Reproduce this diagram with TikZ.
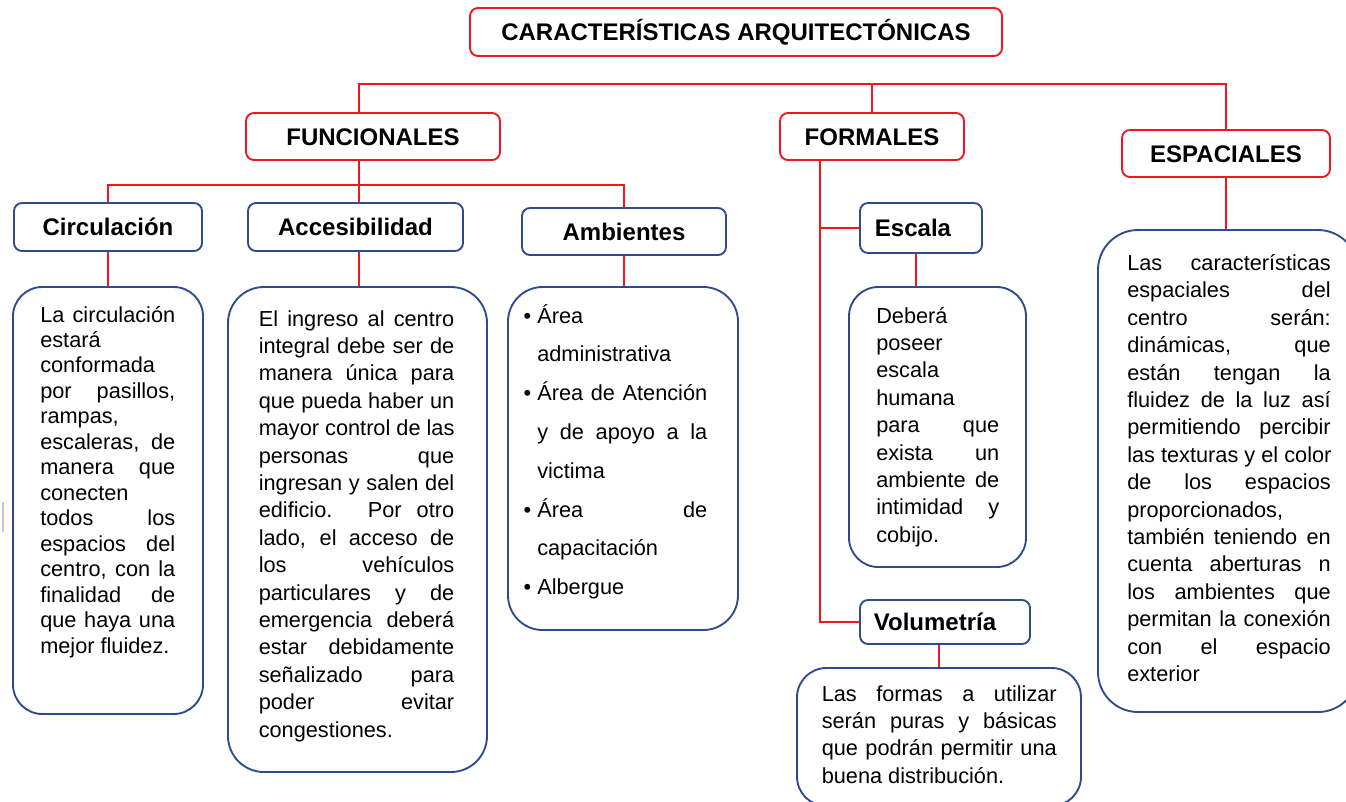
\documentclass[tikz,border=0pt]{standalone}
\usepackage{fontspec}
\setmainfont{Liberation Sans}
\usetikzlibrary{fit}
\definecolor{redline}{HTML}{F2141E}
\definecolor{boxblue}{HTML}{2F4B8A}
% justified line: every space stretches equally to fill the line
\newcommand{\jl}[1]{\leavevmode\hbox to \linewidth{\spaceskip=.278em plus 1fil\relax #1}}
\newcommand{\bul}{\leavevmode\llap{\textbullet\kern4.5pt}}
\newcommand{\txt}[3]{\parbox[t]{#1}{\fontsize{16.3}{#2}\selectfont\raggedright #3}}
\begin{document}
\begin{tikzpicture}[x=0.75pt,y=-0.75pt,
  redbox/.style={draw=redline, line width=1.4pt, rounded corners=6pt, inner sep=0pt},
  bluebox/.style={draw=boxblue, line width=1.4pt, rounded corners=6pt, inner sep=0pt},
  txtbox/.style={draw=boxblue, line width=1.4pt, inner sep=0pt},
  head/.style={font=\fontsize{18}{21.6}\selectfont\bfseries, text height=12.9pt, text depth=0pt},
  body/.style={anchor=base west, inner sep=0pt},
  conn/.style={draw=redline, line width=1.4pt}]
\useasboundingbox (0,0) rectangle (1346,801);
\fill[white] (0,0) rectangle (1346,801);
\clip (0,0) rectangle (1346,801);

% header boxes
\node[redbox, head, minimum width=399pt, minimum height=36pt] (title) at (736,32) {CARACTERÍSTICAS ARQUITECTÓNICAS};
\node[redbox, head, minimum width=190.5pt, minimum height=35.25pt] (func) at (373,136.5) {FUNCIONALES};
\node[redbox, head, minimum width=138pt, minimum height=35.25pt] (form) at (872,136.5) {FORMALES};
\node[redbox, head, minimum width=156pt, minimum height=35.25pt] (esp) at (1226,153.5) {ESPACIALES};

\node[bluebox, head, minimum width=141pt, minimum height=36pt] (circ) at (108,227) {Circulación};
\node[bluebox, head, minimum width=161.25pt, minimum height=36pt] (acc) at (355.5,227) {Accesibilidad};
\node[bluebox, head, minimum width=153pt, minimum height=35.25pt] (amb) at (624,231.5) {Ambientes};
\node[bluebox, head, minimum width=91.5pt, minimum height=37.5pt] (esc) at (921,228) {Escala\hspace*{12pt}};
\node[bluebox, head, minimum width=127.5pt, minimum height=33pt] (vol) at (945,622) {Volumetría\hspace*{15pt}};

% text boxes
\node[txtbox, rounded corners=22pt, fit={(13,287) (203,714)}] (circt) {};
\node[txtbox, rounded corners=27pt, fit={(228,287) (487,772)}] (acct) {};
\node[txtbox, rounded corners=26pt, fit={(508,287) (738,630)}] (ambt) {};
\node[txtbox, rounded corners=22pt, fit={(849,287) (1026,567)}] (esct) {};
\node[txtbox, rounded corners=22pt, fit={(797,668) (1081,806)}] (volt) {};
\node[txtbox, rounded corners=30pt, fit={(1098,230) (1358,712)}] (espt) {};

% connectors
\coordinate (b1) at (359,84);
\coordinate (b2) at (359,185);
\coordinate (fx) at (820,0);
\coordinate (ex) at (916,0);
\draw[conn] (b1 |- func.north) -- (b1) -| (esp.north);
\draw[conn] (form.north) -- (form.north |- b1);
\draw[conn] (b1 |- func.south) -- (b2);
\draw[conn] (circ.north) |- (b2) -| (amb.north);
\draw[conn] (b2) -- (b2 |- acc.north);
\draw[conn] (circ.south) -- (circt.north);
\draw[conn] (b2 |- acc.south) -- (b2 |- acct.north);
\draw[conn] (amb.south) -- (amb.south |- ambt.north);
\draw[conn] (fx |- form.south) |- (vol.west);
\draw[conn] (fx |- esc.west) -- (esc.west);
\draw[conn] (ex |- esc.south) -- (ex |- esct.north);
\draw[conn] (vol.south -| volt.north) -- (volt.north);
\draw[conn] (esp.south) -- (esp.south |- espt.north);

% stray mark at left edge
\draw[gray!45, line width=1pt] (3,502) -- (3,532);

% body texts
\node[body] (circtx) at (40,322) {\txt{101.25pt}{19.1pt}{%
\jl{La circulación}\\
estará\\
conformada\\
\jl{por pasillos,}\\
rampas,\\
\jl{escaleras, de}\\
\jl{manera que}\\
conecten\\
\jl{todos los}\\
\jl{espacios del}\\
\jl{centro, con la}\\
\jl{finalidad de}\\
\jl{que haya una}\\
mejor fluidez.}};

\node[body] (acctx) at (258.5,326) {\txt{146.6pt}{20.55pt}{%
\jl{El ingreso al centro}\\
\jl{integral debe ser de}\\
\jl{manera única para}\\
\jl{que pueda haber un}\\
\jl{mayor control de las}\\
\jl{personas que}\\
\jl{ingresan y salen del}\\
\jl{edificio. Por otro}\\
\jl{lado, el acceso de}\\
\jl{los vehículos}\\
\jl{particulares y de}\\
\jl{emergencia deberá}\\
\jl{estar debidamente}\\
\jl{señalizado para}\\
\jl{poder evitar}\\
congestiones.}};

\node[body] (ambtx) at (537,323) {\txt{127.5pt}{29.1pt}{%
\bul Área\\
administrativa\\
\bul\jl{Área de Atención}\\
\jl{y de apoyo a la}\\
victima\\
\bul\jl{Área de}\\
capacitación\\
\bul Albergue}};

\node[body] (esctx) at (876,323) {\txt{92.25pt}{20.55pt}{%
Deberá\\
poseer\\
escala\\
humana\\
\jl{para que}\\
\jl{exista un}\\
\jl{ambiente de}\\
\jl{intimidad y}\\
cobijo.}};

\node[body] (voltx) at (821.5,701.5) {\txt{176.25pt}{20.4pt}{%
\jl{Las formas a utilizar}\\
\jl{serán puras y básicas}\\
\jl{que podrán permitir una}\\
buena distribución.}};

\node[body] (esptx) at (1127,270.5) {\txt{152.6pt}{20.55pt}{%
\jl{Las características}\\
\jl{espaciales del}\\
\jl{centro serán:}\\
\jl{dinámicas, que}\\
\jl{están tengan la}\\
\jl{fluidez de la luz así}\\
\jl{permitiendo percibir}\\
\jl{las texturas y el color}\\
\jl{de los espacios}\\
proporcionados,\\
\jl{también teniendo en}\\
\jl{cuenta aberturas n}\\
\jl{los ambientes que}\\
\jl{permitan la conexión}\\
\jl{con el espacio}\\
exterior}};
\end{tikzpicture}
\end{document}
